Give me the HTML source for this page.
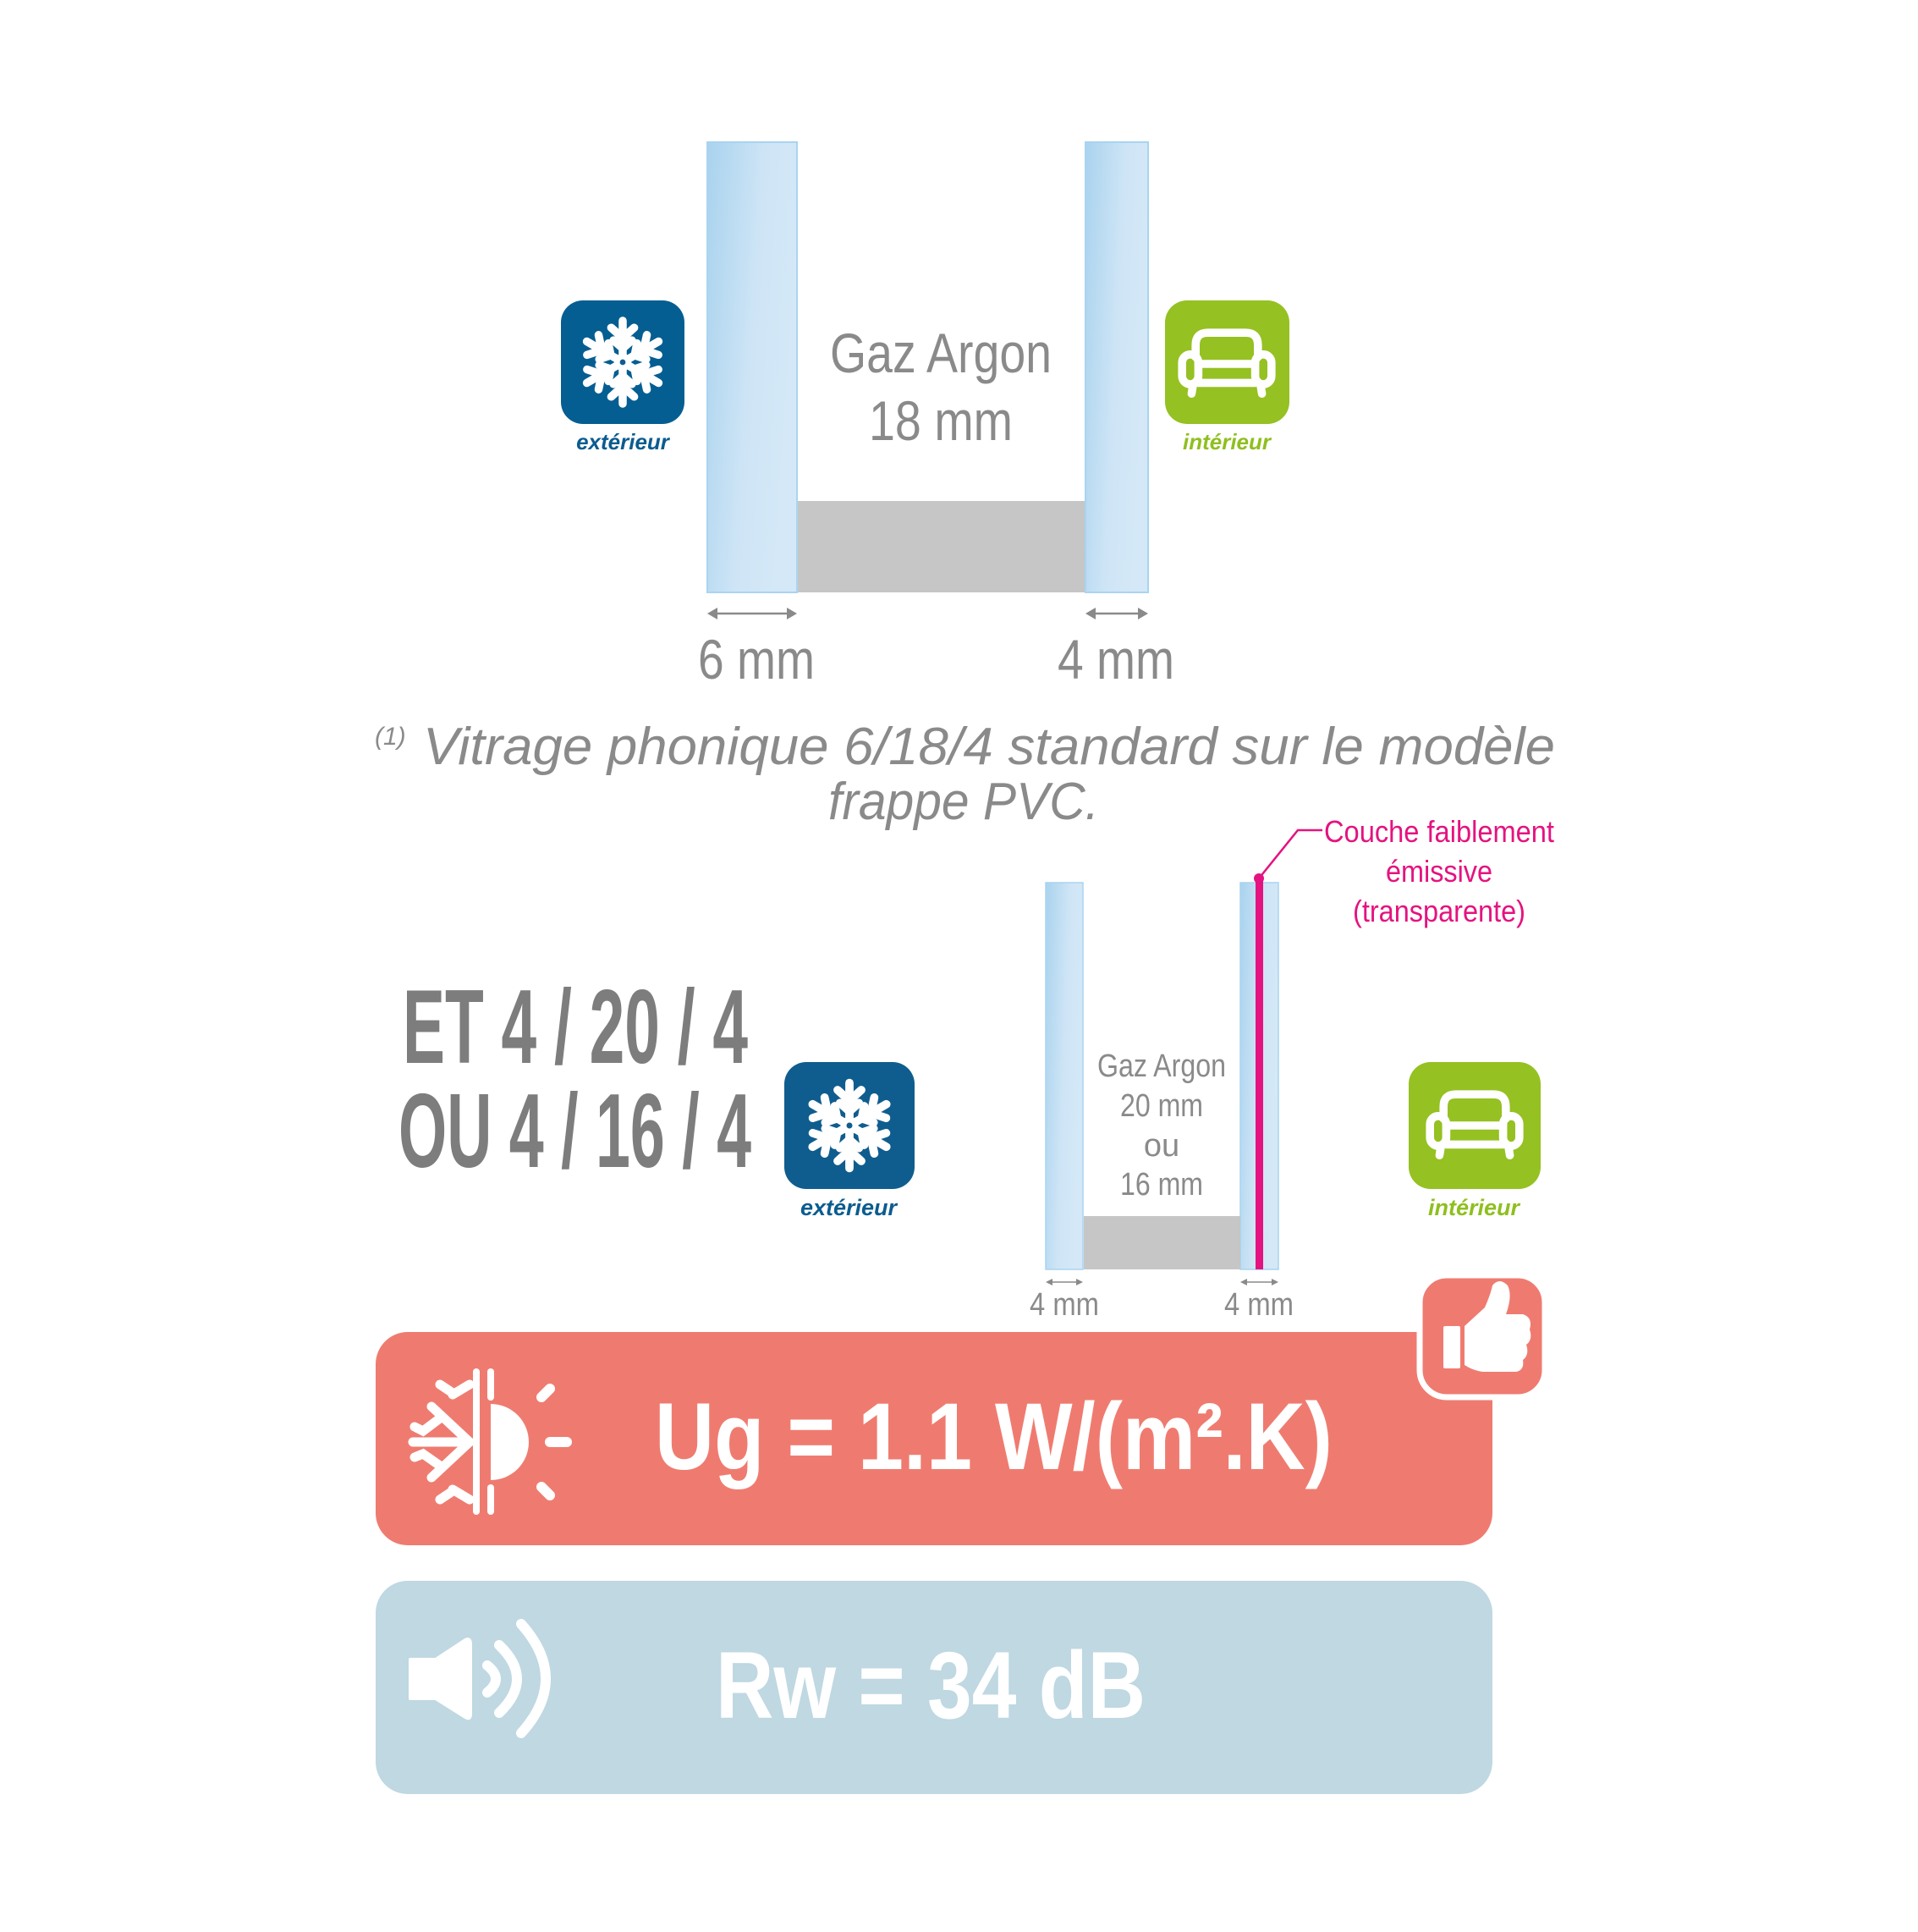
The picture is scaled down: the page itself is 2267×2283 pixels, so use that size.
<!DOCTYPE html>
<html><head><meta charset="utf-8"><style>
html,body{margin:0;padding:0;background:#fff}
svg{display:block}
</style></head><body>
<svg width="2267" height="2283" viewBox="0 0 2267 2283" xmlns="http://www.w3.org/2000/svg">
<defs>
<linearGradient id="gl" x1="0" y1="0" x2="1" y2="0.35">
<stop offset="0" stop-color="#a9d3ee"/><stop offset="0.6" stop-color="#cfe5f6"/><stop offset="1" stop-color="#d4e8f7"/>
</linearGradient>
<g id="snow" stroke="#fff" stroke-width="7" stroke-linecap="round" fill="none">
<g id="arm"><line x1="50" y1="50" x2="50" y2="14"/><polyline points="40,20 50,29 60,20"/><polyline points="42,31 50,38 58,31"/></g>
<use href="#arm" transform="rotate(60 50 50)"/><use href="#arm" transform="rotate(120 50 50)"/>
<use href="#arm" transform="rotate(180 50 50)"/><use href="#arm" transform="rotate(240 50 50)"/><use href="#arm" transform="rotate(300 50 50)"/>
<circle cx="50" cy="50" r="5" fill="#0f5d8e" stroke="#fff" stroke-width="5"/>
</g>
<g id="sofa" stroke="#fff" stroke-width="6" fill="none" stroke-linecap="round" stroke-linejoin="round">
<path d="M27,45 V36 Q27,27 36,27 H64 Q73,27 73,36 V45"/>
<rect x="17" y="43" width="12" height="22" rx="6"/>
<rect x="71" y="43" width="12" height="22" rx="6"/>
<line x1="29" y1="50" x2="71" y2="50"/>
<line x1="29" y1="64" x2="71" y2="64"/>
<line x1="25" y1="66" x2="24" y2="72"/><line x1="75" y1="66" x2="76" y2="72"/>
</g>
</defs>

<!-- top diagram -->
<rect x="836" y="168" width="106" height="532" fill="url(#gl)" stroke="#a9d4f0" stroke-width="2"/>
<rect x="1283" y="168" width="74" height="532" fill="url(#gl)" stroke="#a9d4f0" stroke-width="2"/>
<rect x="943" y="592" width="339" height="108" fill="#c6c6c6"/>
<g font-family="'Liberation Sans Narrow','Liberation Sans',sans-serif" fill="#8a8a8a" text-anchor="middle">
<text x="1112" y="440" font-size="66" textLength="262" lengthAdjust="spacingAndGlyphs">Gaz Argon</text>
<text x="1112" y="520" font-size="66" textLength="170" lengthAdjust="spacingAndGlyphs">18 mm</text>
<text x="894" y="802" font-size="66" textLength="138" lengthAdjust="spacingAndGlyphs">6 mm</text>
<text x="1319" y="802" font-size="66" textLength="138" lengthAdjust="spacingAndGlyphs">4 mm</text>
</g>
<g stroke="#8a8a8a" stroke-width="2.5" fill="#8a8a8a">
<line x1="842" y1="725" x2="936" y2="725"/><path d="M836,725 l12,-7 v14z M942,725 l-12,-7 v14z" stroke="none"/>
<line x1="1289" y1="725" x2="1351" y2="725"/><path d="M1283,725 l12,-7 v14z M1357,725 l-12,-7 v14z" stroke="none"/>
</g>
<rect x="663" y="355" width="146" height="146" rx="26" fill="#055e92"/>
<use href="#snow" transform="translate(668,360) scale(1.36)"/>
<text x="736" y="531" font-family="'Liberation Sans',sans-serif" font-weight="bold" font-style="italic" font-size="26" fill="#0b5c8f" text-anchor="middle">extérieur</text>
<rect x="1377" y="355" width="147" height="146" rx="26" fill="#95c122"/>
<use href="#sofa" transform="translate(1370,350) scale(1.6)"/>
<text x="1450" y="531" font-family="'Liberation Sans',sans-serif" font-weight="bold" font-style="italic" font-size="26" fill="#8fbf1f" text-anchor="middle">intérieur</text>

<!-- footnote -->
<g font-family="'Liberation Sans',sans-serif" font-style="italic" fill="#8a8a8a">
<text x="443" y="880" font-size="30">(1)</text>
<text x="500" y="903" font-size="62" textLength="1338" lengthAdjust="spacingAndGlyphs">Vitrage phonique 6/18/4 standard sur  le modèle</text>
<text x="1139" y="968" font-size="62" text-anchor="middle" textLength="320" lengthAdjust="spacingAndGlyphs">frappe PVC.</text>
</g>

<!-- pink label -->
<g font-family="'Liberation Sans Narrow','Liberation Sans',sans-serif" fill="#e4137f" text-anchor="middle" font-size="36">
<text x="1701" y="995" textLength="272" lengthAdjust="spacingAndGlyphs">Couche faiblement</text>
<text x="1701" y="1042" textLength="126" lengthAdjust="spacingAndGlyphs">émissive</text>
<text x="1701" y="1089" textLength="204" lengthAdjust="spacingAndGlyphs">(transparente)</text>
</g>
<polyline points="1488,1038 1534,981 1563,981" fill="none" stroke="#e4137f" stroke-width="2.5"/>

<!-- bottom diagram -->
<rect x="1236" y="1043" width="44" height="457" fill="url(#gl)" stroke="#a9d4f0" stroke-width="1.5"/>
<rect x="1466" y="1043" width="45" height="457" fill="url(#gl)" stroke="#a9d4f0" stroke-width="1.5"/>
<rect x="1281" y="1437" width="185" height="63" fill="#c6c6c6"/>
<rect x="1484" y="1041" width="9" height="459" fill="#e4137f"/>
<circle cx="1488" cy="1038" r="6" fill="#e4137f"/>
<g font-family="'Liberation Sans Narrow','Liberation Sans',sans-serif" fill="#8a8a8a" text-anchor="middle" font-size="38">
<text x="1373" y="1272" textLength="152" lengthAdjust="spacingAndGlyphs">Gaz Argon</text>
<text x="1373" y="1319" textLength="98" lengthAdjust="spacingAndGlyphs">20 mm</text>
<text x="1373" y="1366">ou</text>
<text x="1373" y="1412" textLength="98" lengthAdjust="spacingAndGlyphs">16 mm</text>
<text x="1258" y="1554" textLength="82" lengthAdjust="spacingAndGlyphs">4 mm</text>
<text x="1488" y="1554" textLength="82" lengthAdjust="spacingAndGlyphs">4 mm</text>
</g>
<g stroke="#8a8a8a" stroke-width="1.5" fill="#8a8a8a">
<line x1="1240" y1="1515" x2="1276" y2="1515"/><path d="M1236,1515 l8,-4 v8z M1280,1515 l-8,-4 v8z" stroke="none"/>
<line x1="1470" y1="1515" x2="1507" y2="1515"/><path d="M1466,1515 l8,-4 v8z M1511,1515 l-8,-4 v8z" stroke="none"/>
</g>
<g font-family="'Liberation Sans Narrow','Liberation Sans',sans-serif" font-weight="bold" fill="#7d7d7d" font-size="124">
<text x="476" y="1256" textLength="408" lengthAdjust="spacingAndGlyphs">ET 4 / 20 / 4</text>
<text x="471" y="1379" textLength="417" lengthAdjust="spacingAndGlyphs">OU 4 / 16 / 4</text>
</g>
<rect x="927" y="1255" width="154" height="150" rx="26" fill="#0f5d8e"/>
<use href="#snow" transform="translate(934,1260) scale(1.4)"/>
<text x="1003" y="1436" font-family="'Liberation Sans',sans-serif" font-weight="bold" font-style="italic" font-size="27" fill="#0b5c8f" text-anchor="middle">extérieur</text>
<rect x="1665" y="1255" width="156" height="150" rx="26" fill="#95c122"/>
<use href="#sofa" transform="translate(1663,1250) scale(1.6)"/>
<text x="1742" y="1436" font-family="'Liberation Sans',sans-serif" font-weight="bold" font-style="italic" font-size="27" fill="#8fbf1f" text-anchor="middle">intérieur</text>

<!-- red box -->
<rect x="444" y="1574" width="1320" height="252" rx="38" fill="#ef7b70"/>
<rect x="1678" y="1507" width="148" height="144" rx="32" fill="#ef7b70" stroke="#fff" stroke-width="7"/>
<g fill="#fff" transform="translate(0,-3)">
<rect x="1706" y="1570" width="20" height="50" rx="2"/>
<path d="M1731,1570 L1755,1548 Q1762,1532 1764,1522 Q1772,1512 1782,1522 Q1788,1534 1780,1556 L1800,1556 Q1812,1560 1808,1574 Q1812,1586 1804,1592 Q1808,1604 1800,1610 Q1802,1622 1792,1624 L1752,1624 Q1740,1622 1731,1616 Z"/>
</g>
<text x="774" y="1736" font-family="'Liberation Sans',sans-serif" font-weight="bold" font-size="112" fill="#fff" textLength="801" lengthAdjust="spacingAndGlyphs">Ug = 1.1 W/(m².K)</text>
<!-- sun/snow icon -->
<g transform="translate(0,-4)">
<g stroke="#fff" stroke-linecap="round" fill="none">
<line x1="563" y1="1625" x2="563" y2="1790" stroke-width="8"/>
<line x1="580" y1="1625" x2="580" y2="1655" stroke-width="8"/>
<line x1="580" y1="1762" x2="580" y2="1790" stroke-width="8"/>
<g stroke-width="11">
<line x1="555" y1="1708" x2="488" y2="1708"/>
<line x1="555" y1="1708" x2="510" y2="1666"/><line x1="555" y1="1708" x2="510" y2="1750"/>
<line x1="555" y1="1640" x2="535" y2="1652"/><line x1="555" y1="1776" x2="535" y2="1764"/>
<polyline points="520,1680 500,1695 490,1690"/><polyline points="520,1736 500,1722 490,1726"/>
<line x1="535" y1="1650" x2="520" y2="1640"/><line x1="535" y1="1766" x2="520" y2="1776"/>
</g>
<g stroke-width="12">
<line x1="640" y1="1655" x2="650" y2="1645"/><line x1="640" y1="1761" x2="650" y2="1771"/>
<line x1="650" y1="1708" x2="670" y2="1708"/>
</g>
</g>
<path d="M580,1663 A45,45 0 0 1 580,1753 Z" fill="#fff"/>
</g>

<!-- blue box -->
<rect x="444" y="1868" width="1320" height="252" rx="38" fill="#bfd8e2"/>
<text x="846" y="2030" font-family="'Liberation Sans',sans-serif" font-weight="bold" font-size="112" fill="#fff" textLength="508" lengthAdjust="spacingAndGlyphs">Rw = 34 dB</text>
<g transform="translate(0,-4)">
<path d="M485,1965 H515 L550,1942 Q556,1939 556,1947 V2029 Q556,2037 550,2033 L515,2011 H485 Z" fill="#fff" stroke="#fff" stroke-width="4" stroke-linejoin="round"/>
<g stroke="#fff" stroke-width="12" fill="none" stroke-linecap="round">
<path d="M576,1972 Q596,1988 576,2004"/>
<path d="M590,1948 Q632,1988 590,2028"/>
<path d="M616,1923 Q674,1988 616,2052"/>
</g>
</g>
</svg>
</body></html>
